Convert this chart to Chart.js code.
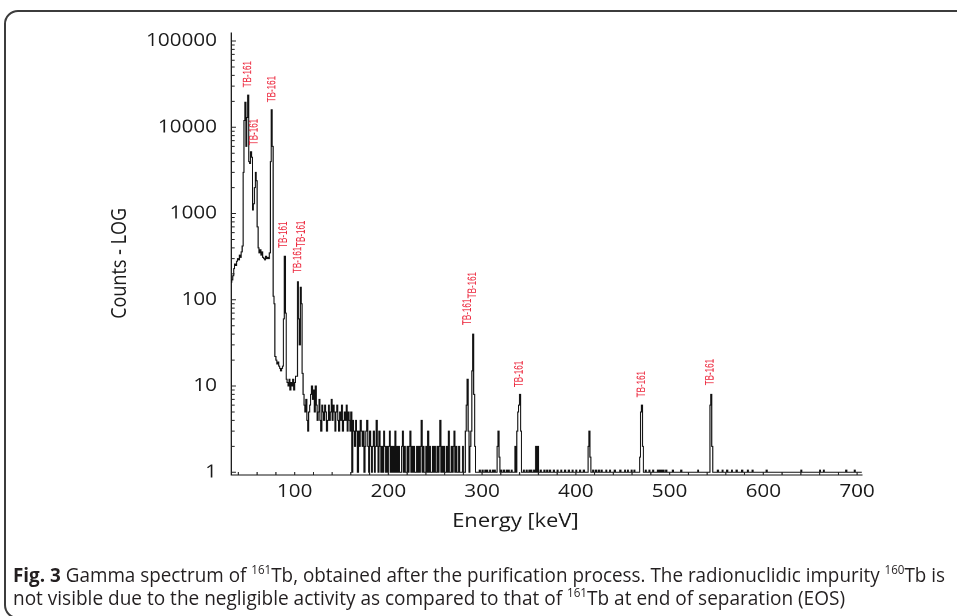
<!DOCTYPE html>
<html><head><meta charset="utf-8">
<script src="https://cdn.jsdelivr.net/npm/chart.js@4.4.1/dist/chart.umd.min.js"></script>
<style>
html,body{margin:0;padding:0;background:#fff;width:957px;height:616px;overflow:hidden;position:relative}
#frame{position:absolute;left:4px;top:10px;width:1000px;height:609px;border:2px solid #3c3c3c;border-radius:14px;box-sizing:border-box}
#chart{position:absolute;left:0;top:0;transform-origin:0 0;transform:scaleX(1.15)}
.cap{position:absolute;left:13px;white-space:nowrap;font-family:"Open Sans",sans-serif;font-size:19.5px;line-height:18px;color:#231f20;transform-origin:0 0}
.cap sup{font-size:12px;vertical-align:8px;line-height:0}
</style></head><body>
<div id="frame"></div>
<canvas id="chart" width="832" height="616" style="width:832px;height:616px"></canvas>
<div class="cap" id="cap1" style="top:566px"><b>Fig. 3</b> Gamma spectrum of <sup>161</sup>Tb, obtained after the purification process. The radionuclidic impurity <sup>160</sup>Tb is</div>
<div class="cap" id="cap2" style="top:589px">not visible due to the negligible activity as compared to that of <sup>161</sup>Tb at end of separation (EOS)</div>
<script>
// ---- data ----
// 1 keV channels starting at 32 keV (32 .. 295 keV)
const lowStartEnergy = 32;
const lowCounts = [
 160,170,190,230,260,250,280,300,290,330,
 310,360,420,3000,12000,19500,6000,13000,23600,4000,
 3800,5200,4500,1100,1300,2000,3000,2400,700,400,
 350,380,330,360,310,300,290,320,300,310,
 300,350,4000,16000,6000,110,90,22,20,18,
 19,17,16,15,16,17,60,320,70,12,
 11,10,12,9,11,10,12,9,11,13,
 13,162,60,30,140,90,14,
 8,6,5,7,4,3,5,6,8,10,7,9,5,10,6,4,5,7,4,3,6,5,4,6,5,3,4,6,4,5,7,4,6,5,3,5,6,4,3,5,4,6,3,4,5,
 4,6,3,5,4,3,5,1,4,3,2,4,3,1,3,2,4,3,2,3,1,2,3,4,2,1,3,2,1,2,3,1,2,4,2,1,3,2,1,2,1,3,2,1,2,1,2,3,1,2,1,2,1,3,1,
 2,1,2,1,1,2,3,1,2,1,1,2,1,2,3,1,2,1,2,1,1,2,1,2,1,2,4,1,2,1,1,2,1,3,1,2,1,1,2,1,2,1,1,2,1,2,4,1,2,1,
 2,1,1,2,1,3,1,1,2,1,2,3,1,2,1,1,2,1,1,1,2,1,1,3,6,12,3,1,2,3,15,40,8,2,1,1,1
];
// above 295 keV: baseline level and the channels that stand above it
const baselineCount = 1;
const highEndEnergy = 705;
const highEnergies = [297,300,303,305,308,311,313,316,317,318,320,323,326,328,331,335,337,338,339,340,341,344,347,350,352,355,357,359,362,366,369,372,376,380,384,388,392,396,400,404,408,413,414,415,418,421,424,427,432,436,441,447,452,455,459,462,468,469,470,471,474,478,482,487,489,491,493,496,503,512,530,543,544,545,551,556,561,566,571,577,583,588,603,640,660,664,688,697];
const highCounts   = [1.06,1.06,1.06,1.06,1.06,1.06,1.06,2,3,1.5,1.06,1.06,1.06,1.06,1.06,2,3,5,6,8,3,1.06,1.06,1.06,1.06,1.06,2,2,1.06,1.06,1.06,1.06,1.06,1.06,1.06,1.06,1.06,1.06,1.06,1.06,1.06,2,3,1.5,1.06,1.06,1.06,1.06,1.06,1.06,1.06,1.06,1.06,1.06,1.06,1.06,1.5,5,6,2,1.06,1.06,1.06,1.06,1.06,1.06,1.06,1.06,1.06,1.06,1.06,6,8,2,1.06,1.06,1.06,1.06,1.06,1.06,1.06,1.06,1.06,1.06,1.06,1.06,1.06,1.06];
// peak annotations
const peakLabelText = 'TB-161';
const peakLabelEnergies = [50, 57, 75.6, 88, 103.4, 106.9, 284.3, 290, 339.8, 470.3, 543.1];
const peakLabelCounts   = [29000, 6200, 19500, 400, 204, 410, 51, 104, 9.7, 7.4, 10.2];
// axis ticks and titles
const xTickValues = [100, 200, 300, 400, 500, 600, 700];
const yTickValues = [1, 10, 100, 1000, 10000, 100000];
const xTitle = 'Energy [keV]';
const yTitle = 'Counts - LOG';

// ---- build points ----
const points = [];
lowCounts.forEach((c, i) => points.push({x: lowStartEnergy + i, y: c}));
const lowEnd = lowStartEnergy + lowCounts.length - 1;
for (let e = lowEnd + 1; e <= highEndEnergy; e++) {
  const k = highEnergies.indexOf(e);
  points.push({x: e, y: k >= 0 ? highCounts[k] : baselineCount});
}

const xMinor = []; for (let v = 40; v <= 700; v += 20) xMinor.push(v);
const yMinor = []; yTickValues.forEach(d => { for (let m = 1; m <= 9; m++) if (d * m <= 120000) yMinor.push(d * m); });

const tickPlugin = {
  id: 'inwardTicks',
  afterDraw(chart) {
    const {ctx, chartArea: a, scales: {x, y}} = chart;
    ctx.save();
    ctx.strokeStyle = '#222'; ctx.lineWidth = 1;
    ctx.beginPath();
    xMinor.forEach(v => { const p = x.getPixelForValue(v); ctx.moveTo(p, a.bottom); ctx.lineTo(p, a.bottom - 3); });
    yMinor.forEach(v => { const p = y.getPixelForValue(v); const big = yTickValues.includes(v); ctx.moveTo(a.left, p); ctx.lineTo(a.left + (big ? 4 : 3), p); });
    ctx.stroke();
    ctx.restore();
  }
};
const labelPlugin = {
  id: 'peakLabels',
  afterDatasetsDraw(chart) {
    const {ctx, scales: {x, y}} = chart;
    ctx.save();
    ctx.fillStyle = '#ec2238';
    ctx.font = '11px "Liberation Sans", Arial, sans-serif';
    ctx.textAlign = 'left'; ctx.textBaseline = 'middle';
    peakLabelEnergies.forEach((e, i) => {
      ctx.save();
      ctx.translate(x.getPixelForValue(e), y.getPixelForValue(peakLabelCounts[i]));
      ctx.rotate(-Math.PI / 2);
      ctx.scale(0.73, 1);
      ctx.fillText(peakLabelText, 0, 0);
      ctx.restore();
    });
    ctx.restore();
  }
};

const txt = '#1a1a1a';
new Chart(document.getElementById('chart'), {
  type: 'line',
  data: {datasets: [{data: points, borderColor: '#111', borderWidth: 1, pointRadius: 0, stepped: true, fill: false}]},
  options: {
    responsive: false, animation: false, devicePixelRatio: 2,
    layout: {padding: {left: 0, right: 82.4, top: 33, bottom: 81}},
    plugins: {legend: {display: false}, tooltip: {enabled: false}},
    scales: {
      x: {
        type: 'linear', min: 32.3, max: 705.3,
        afterBuildTicks: s => { s.ticks = xTickValues.map(v => ({value: v})); },
        afterFit: s => { s.height = 60; },
        grid: {drawOnChartArea: false, drawTicks: false},
        border: {display: true, color: '#111', width: 1},
        ticks: {color: txt, font: {family: 'Open Sans', size: 18}, padding: 6, maxRotation: 0, autoSkip: false},
        title: {display: true, text: xTitle + '\u00a0'.repeat(11), color: txt, font: {family: 'Open Sans', size: 19}, padding: {top: 0, bottom: 2}}
      },
      y: {
        type: 'logarithmic', min: 0.93, max: 124000,
        afterBuildTicks: s => { s.ticks = yTickValues.map(v => ({value: v})); },
        afterFit: s => { s.width = 201; },
        grid: {drawOnChartArea: false, drawTicks: false},
        border: {display: true, color: '#111', width: 1},
        ticks: {color: txt, font: {family: 'Open Sans', size: 18}, padding: 12.3, autoSkip: false, callback: v => String(v)},
        title: {display: true, text: yTitle + '\u00a0'.repeat(4), color: txt, font: {family: 'Open Sans', size: 18}, padding: {top: 93.5, bottom: 0}}
      }
    }
  },
  plugins: [tickPlugin, labelPlugin]
});

function fit(id, w) {
  const el = document.getElementById(id);
  el.style.transform = 'none';
  const nat = el.getBoundingClientRect().width;
  el.style.transform = 'scaleX(' + (w / nat) + ')';
}
fit('cap1', 932); fit('cap2', 832);
</script>
</body></html>
